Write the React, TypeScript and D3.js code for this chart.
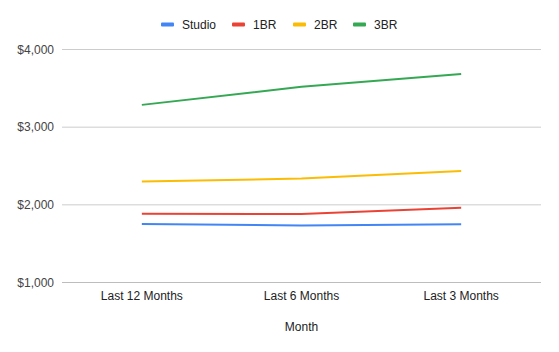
import * as d3 from "d3";

const MONTHS = ["Last 12 Months", "Last 6 Months", "Last 3 Months"];
const SERIES = ["Studio", "1BR", "2BR", "3BR"];
const STUDIO = [1752, 1735, 1750];
const BR1 = [1884, 1882, 1961];
const BR2 = [2300, 2338, 2437];
const BR3 = [3287, 3519, 3685];
const Y_TICKS = [1000, 2000, 3000, 4000];
const COLORS = ["#4285f4", "#ea4335", "#fbbc04", "#34a853"];

const WIDTH = 559;
const HEIGHT = 352;
const MARGIN = { top: 49.5, right: 18, bottom: 69.5, left: 62 };
const FONT = "'Liberation Sans', Arial, sans-serif";

export default function App() {
  const values = [STUDIO, BR1, BR2, BR3];
  const boundsWidth = WIDTH - MARGIN.left - MARGIN.right;
  const boundsHeight = HEIGHT - MARGIN.top - MARGIN.bottom;

  const xScale = d3
    .scalePoint<string>()
    .domain(MONTHS)
    .range([0, boundsWidth])
    .padding(0.5);
  const yScale = d3.scaleLinear().domain([1000, 4000]).range([boundsHeight, 0]);

  const line = d3
    .line<number>()
    .x((_, i) => xScale(MONTHS[i])!)
    .y((d) => yScale(d));

  const legendX = [161, 232, 293, 353];
  const fmt = d3.format("$,");

  return (
    <svg
      width={WIDTH}
      height={HEIGHT}
      style={{ position: "absolute", left: 0, top: 0, background: "#fff" }}
      fontFamily={FONT}
    >
      <g>
        {SERIES.map((s, i) => (
          <g key={s} transform={`translate(${legendX[i]},24.5)`}>
            <rect x={0} y={-2} width={13} height={4} rx={1} fill={COLORS[i]} />
            <text x={21} y={0} dy="0.35em" fontSize={12} fill="#222">
              {s}
            </text>
          </g>
        ))}
      </g>
      <g transform={`translate(${MARGIN.left},${MARGIN.top})`}>
        {Y_TICKS.map((t) => (
          <g key={t}>
            <line
              x1={0}
              x2={boundsWidth}
              y1={yScale(t)}
              y2={yScale(t)}
              stroke={t === 1000 ? "#bdbdbd" : "#cccccc"}
              strokeWidth={1}
            />
            <text
              x={-8}
              y={yScale(t)}
              dy="0.35em"
              textAnchor="end"
              fontSize={12}
              fill="#444"
            >
              {fmt(t)}
            </text>
          </g>
        ))}
        {MONTHS.map((m) => (
          <text
            key={m}
            x={xScale(m)}
            y={boundsHeight + 17}
            textAnchor="middle"
            fontSize={12}
            fill="#222"
          >
            {m}
          </text>
        ))}
        <text
          x={boundsWidth / 2}
          y={boundsHeight + 48}
          textAnchor="middle"
          fontSize={12}
          fill="#222"
        >
          Month
        </text>
        {values.map((v, i) => (
          <path
            key={SERIES[i]}
            d={line(v)!}
            fill="none"
            stroke={COLORS[i]}
            strokeWidth={2}
            strokeLinejoin="round"
          />
        ))}
      </g>
    </svg>
  );
}
